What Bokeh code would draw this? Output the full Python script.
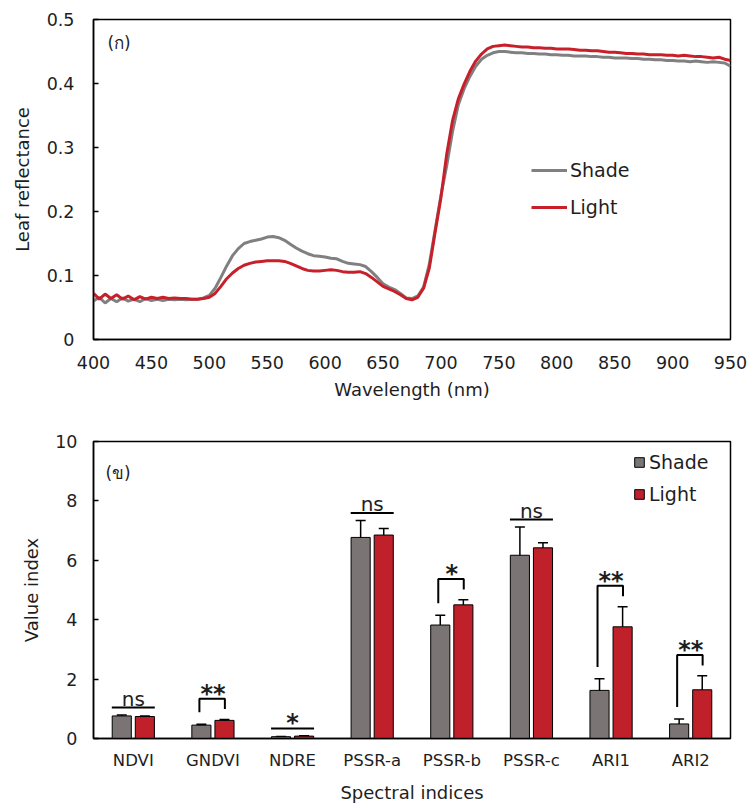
from bokeh.plotting import figure
from bokeh.models import (FactorRange, Whisker, ColumnDataSource, Legend, LegendItem,
                          Label, FixedTicker, Range1d)
from bokeh.layouts import column
from bokeh.transform import dodge
from bokeh.core.properties import value
from bokeh.embed import file_html
from bokeh.resources import INLINE

# ---------------- data: panel (ก) leaf reflectance spectra ----------------
wavelength = list(range(400, 955, 5))
shade_refl = [
    0.060, 0.066, 0.057, 0.064, 0.059, 0.065, 0.060, 0.063, 0.059, 0.064,  # 400-445
    0.061, 0.063, 0.061, 0.063, 0.062, 0.063, 0.062, 0.063, 0.063, 0.065,  # 450-495
    0.069, 0.080, 0.097, 0.115, 0.131, 0.142, 0.150, 0.153, 0.155, 0.157,  # 500-545
    0.160, 0.161, 0.159, 0.155, 0.149, 0.143, 0.138, 0.134, 0.131, 0.130,  # 550-595
    0.129, 0.127, 0.126, 0.122, 0.119, 0.118, 0.117, 0.114, 0.106, 0.097,  # 600-645
    0.087, 0.082, 0.078, 0.072, 0.065, 0.064, 0.068, 0.082, 0.118, 0.172,  # 650-695
    0.225, 0.272, 0.325, 0.367, 0.392, 0.411, 0.427, 0.438, 0.444, 0.448,  # 700-745
    0.450, 0.450, 0.449, 0.448, 0.448, 0.447, 0.447, 0.446, 0.446, 0.445,  # 750-795
    0.445, 0.444, 0.444, 0.443, 0.443, 0.443, 0.442, 0.442, 0.441, 0.441,  # 800-845
    0.440, 0.440, 0.440, 0.439, 0.439, 0.438, 0.438, 0.437, 0.437, 0.436,  # 850-895
    0.436, 0.435, 0.435, 0.434, 0.435, 0.434, 0.433, 0.434, 0.433, 0.432,  # 900-945
    0.427,                                                                  # 950
]
light_refl = [
    0.072, 0.063, 0.071, 0.064, 0.070, 0.063, 0.068, 0.062, 0.067, 0.063,  # 400-445
    0.066, 0.064, 0.066, 0.064, 0.065, 0.064, 0.064, 0.063, 0.063, 0.064,  # 450-495
    0.066, 0.072, 0.083, 0.095, 0.104, 0.111, 0.116, 0.119, 0.121, 0.122,  # 500-545
    0.123, 0.123, 0.123, 0.122, 0.119, 0.115, 0.111, 0.108, 0.107, 0.107,  # 550-595
    0.108, 0.109, 0.108, 0.106, 0.105, 0.105, 0.106, 0.103, 0.097, 0.090,  # 600-645
    0.083, 0.079, 0.075, 0.070, 0.064, 0.062, 0.066, 0.080, 0.112, 0.168,  # 650-695
    0.222, 0.290, 0.342, 0.376, 0.399, 0.419, 0.435, 0.446, 0.454, 0.458,  # 700-745
    0.459, 0.460, 0.459, 0.458, 0.457, 0.457, 0.456, 0.456, 0.455, 0.455,  # 750-795
    0.454, 0.454, 0.454, 0.453, 0.452, 0.452, 0.451, 0.451, 0.450, 0.449,  # 800-845
    0.449, 0.448, 0.447, 0.447, 0.446, 0.446, 0.445, 0.445, 0.445, 0.444,  # 850-895
    0.444, 0.443, 0.444, 0.443, 0.442, 0.442, 0.441, 0.440, 0.441, 0.438,  # 900-945
    0.436,                                                                  # 950
]
wl_ticks = [400, 450, 500, 550, 600, 650, 700, 750, 800, 850, 900, 950]
refl_ticks = [0, 0.1, 0.2, 0.3, 0.4, 0.5]
refl_tick_labels = ["0", "0.1", "0.2", "0.3", "0.4", "0.5"]

# ---------------- data: panel (ข) spectral indices ----------------
indices = ["NDVI", "GNDVI", "NDRE", "PSSR-a", "PSSR-b", "PSSR-c", "ARI1", "ARI2"]
shade_val = [0.76, 0.45, 0.06, 6.77, 3.82, 6.17, 1.62, 0.49]
shade_err = [0.03, 0.03, 0.01, 0.57, 0.33, 0.95, 0.39, 0.17]
light_val = [0.74, 0.61, 0.08, 6.85, 4.50, 6.42, 3.76, 1.64]
light_err = [0.02, 0.03, 0.01, 0.22, 0.17, 0.17, 0.68, 0.47]
signif = ["ns", "**", "*", "ns", "*", "ns", "**", "**"]
is_bracket = [False, True, False, False, True, False, True, True]
value_ticks = [0, 2, 4, 6, 8, 10]

# ---------------- style ----------------
FONT = "DejaVu Sans"
TXT = "#1e1e1e"
GRAY_LINE = "#808080"
RED_LINE = "#c8202a"
GRAY_BAR = "#7a7574"
RED_BAR = "#c0202a"


def style_axis(ax, label_standoff, title_standoff, ticks_in=True):
    ax.axis_line_color = "black"
    ax.axis_line_width = 1.5
    ax.major_label_text_font = FONT
    ax.major_label_text_font_size = "17.5px"
    ax.major_label_text_color = TXT
    ax.axis_label_text_font = FONT
    ax.axis_label_text_font_size = "18px"
    ax.axis_label_text_font_style = "normal"
    ax.axis_label_text_color = TXT
    ax.minor_tick_line_color = None
    ax.major_label_standoff = label_standoff
    ax.axis_label_standoff = title_standoff
    if ticks_in:
        ax.major_tick_in = 5
        ax.major_tick_out = 0
        ax.major_tick_line_color = "black"
        ax.major_tick_line_width = 1.5
    else:
        ax.major_tick_line_color = None


# ---------------- top figure ----------------
top = figure(width=749, height=410, x_range=Range1d(400, 950), y_range=Range1d(0, 0.5),
             output_backend="svg", toolbar_location=None,
             min_border_left=91, min_border_right=19, min_border_top=19, min_border_bottom=71)
top.xgrid.visible = False
top.ygrid.visible = False
top.outline_line_color = "black"
top.outline_line_width = 1.5
top.background_fill_color = "white"

r_sh = top.line(wavelength, shade_refl, line_color=GRAY_LINE, line_width=3)
r_li = top.line(wavelength, light_refl, line_color=RED_LINE, line_width=3)

top.xaxis.ticker = FixedTicker(ticks=wl_ticks)
top.yaxis.ticker = FixedTicker(ticks=refl_ticks)
top.yaxis.major_label_overrides = {t: l for t, l in zip(refl_ticks, refl_tick_labels)}
top.xaxis.axis_label = "Wavelength (nm)"
top.yaxis.axis_label = "Leaf reflectance"
style_axis(top.xaxis[0], 10, 7, ticks_in=False)
style_axis(top.yaxis[0], 19, 11, ticks_in=True)

leg_top = Legend(items=[LegendItem(label="Shade", renderers=[r_sh]),
                        LegendItem(label="Light", renderers=[r_li])],
                 location=(438, 121), glyph_width=36, glyph_height=20, spacing=15,
                 padding=0, margin=0, label_standoff=3,
                 label_text_font=FONT, label_text_font_size="19px", label_text_color=TXT,
                 border_line_color=None, background_fill_alpha=0)
top.add_layout(leg_top, "center")

top.add_layout(Label(x=412, y=0.464, text="(ก)", text_baseline="middle",
                     text_font=FONT, text_font_size="17px", text_color=TXT))

# ---------------- bottom figure ----------------
bot = figure(width=749, height=395, x_range=FactorRange(factors=indices), y_range=Range1d(0, 10),
             output_backend="svg", toolbar_location=None,
             min_border_left=93, min_border_right=13, min_border_top=31, min_border_bottom=66)
bot.xgrid.visible = False
bot.ygrid.visible = False
bot.outline_line_color = "black"
bot.outline_line_width = 1.5

src = ColumnDataSource(dict(
    idx=indices,
    sv=shade_val, lv=light_val,
    s_lo=[v - e for v, e in zip(shade_val, shade_err)],
    s_hi=[v + e for v, e in zip(shade_val, shade_err)],
    l_lo=[v - e for v, e in zip(light_val, light_err)],
    l_hi=[v + e for v, e in zip(light_val, light_err)],
))
OFF = 0.145
BW = 0.24
vb_s = bot.vbar(x=dodge("idx", -OFF, range=bot.x_range), top="sv", width=BW, source=src,
                fill_color=GRAY_BAR, line_color="black", line_width=1)
vb_l = bot.vbar(x=dodge("idx", OFF, range=bot.x_range), top="lv", width=BW, source=src,
                fill_color=RED_BAR, line_color="black", line_width=1)

for base, lo, hi in ((dodge("idx", -OFF, range=bot.x_range), "s_lo", "s_hi"),
                     (dodge("idx", OFF, range=bot.x_range), "l_lo", "l_hi")):
    w = Whisker(base=base, lower=lo, upper=hi, source=src, line_color="black", line_width=1.5)
    w.upper_head.size = 10
    w.lower_head.size = 10
    w.upper_head.line_width = 1.5
    w.lower_head.line_width = 1.5
    bot.add_layout(w)

# significance marks, placed relative to the bar tops
br_xs, br_ys, ns_x, ns_y, ns_t, st_x, st_y, st_t = [], [], [], [], [], [], [], []
for i, (sv, se, lv, le, sg, br) in enumerate(zip(shade_val, shade_err, light_val, light_err,
                                                  signif, is_bracket)):
    c = i + 0.5
    s_top, l_top = sv + se, lv + le
    hi = max(s_top, l_top)
    if br:
        h = hi + 0.7
        br_xs.append([c - 0.17, c - 0.17, c + 0.15, c + 0.15])
        br_ys.append([s_top + 0.4, h, h, h - 0.35])
    else:
        h = hi + 0.25
        br_xs.append([c - 0.27, c + 0.27])
        br_ys.append([h, h])
    if sg == "ns":
        ns_x.append(c); ns_y.append(h); ns_t.append(sg)
    else:
        st_x.append(c); st_y.append(h); st_t.append(sg)

bot.multi_line(xs=br_xs, ys=br_ys, line_color="black", line_width=2)
bot.text(x=ns_x, y=ns_y, text=ns_t, text_align="center", text_baseline="alphabetic",
         y_offset=-9, text_font=value(FONT), text_font_size="20px", text_color=TXT)
bot.text(x=st_x, y=st_y, text=st_t, text_align="center", text_baseline="alphabetic",
         y_offset=-5, text_font=value(FONT), text_font_size="24px", text_font_style="bold",
         text_color=TXT)

bot.yaxis.ticker = FixedTicker(ticks=value_ticks)
bot.xaxis.axis_label = "Spectral indices"
bot.yaxis.axis_label = "Value index"
style_axis(bot.xaxis[0], 6, 9, ticks_in=False)
style_axis(bot.yaxis[0], 16, 10, ticks_in=True)
bot.xaxis.major_label_text_font_size = "16.5px"

leg_bot = Legend(items=[LegendItem(label="Shade", renderers=[vb_s]),
                        LegendItem(label="Light", renderers=[vb_l])],
                 location=(540, 233), glyph_width=12, glyph_height=12, spacing=10,
                 padding=0, margin=0, label_standoff=4, label_height=22,
                 label_text_font=FONT, label_text_font_size="19px", label_text_color=TXT,
                 border_line_color=None, background_fill_alpha=0)
bot.add_layout(leg_bot, "center")

bot.add_layout(Label(x=0.15, y=8.93, text="(ข)", text_baseline="middle",
                     text_font=FONT, text_font_size="17px", text_color=TXT))

layout = column(top, bot)
open("out.html", "w").write(file_html(layout, INLINE))
